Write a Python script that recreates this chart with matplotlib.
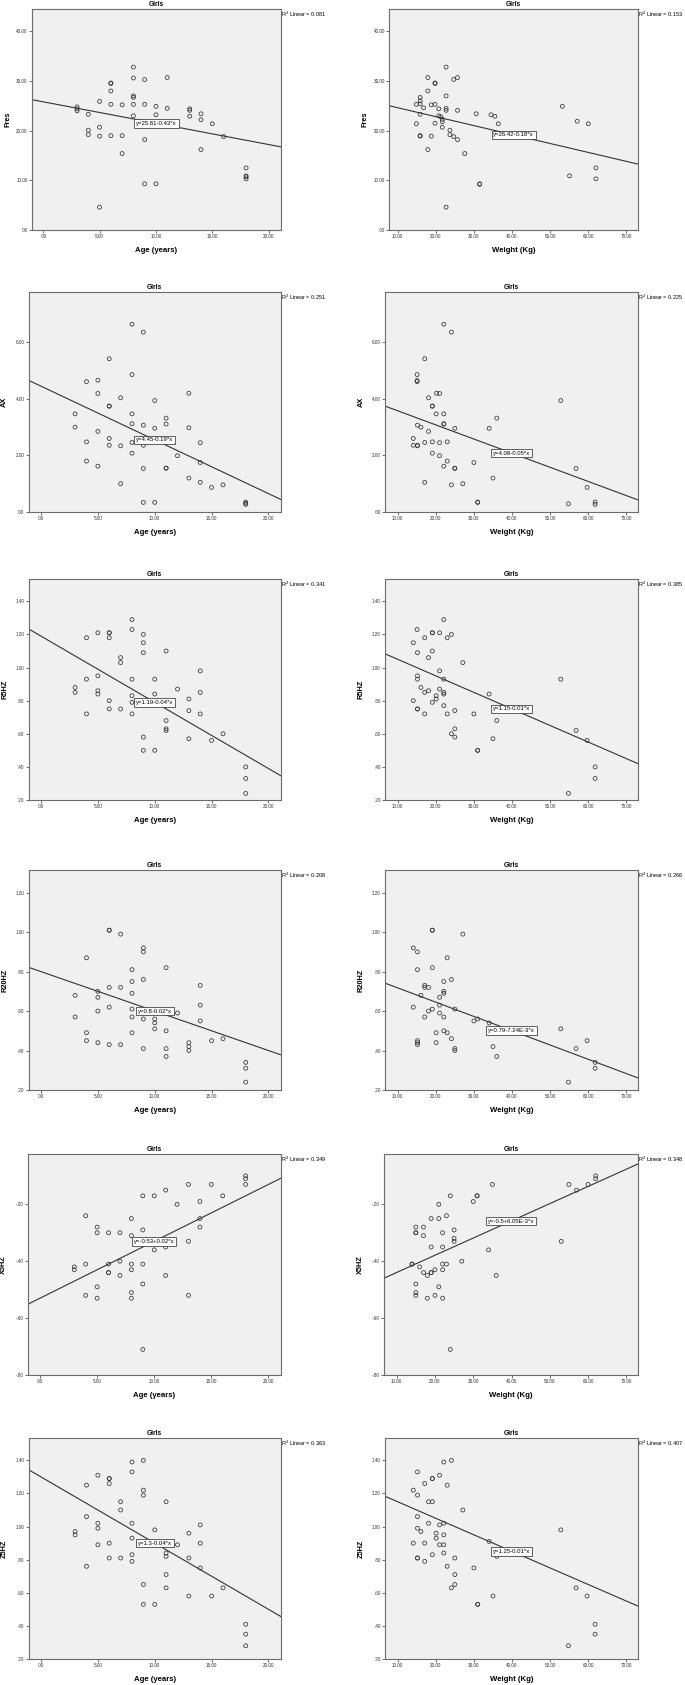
import matplotlib
matplotlib.use("Agg")
import matplotlib.pyplot as plt
from matplotlib.ticker import FuncFormatter

plt.rcParams['font.family'] = ['Liberation Sans', 'DejaVu Sans']

# ---- data (girls) ----
# Fres
fres_age_x = [3, 3, 3, 4, 4, 4, 5, 5, 5, 5, 6, 6, 6, 6, 6, 7, 7, 7, 8, 8, 8, 8, 8, 8, 9, 9, 9, 9,
              10, 10, 10, 11, 11, 13, 13, 13, 14, 14, 14, 15, 16, 18, 18, 18, 18]
fres_age_y = [24.8, 24.4, 24.0, 23.3, 20.1, 19.2, 25.9, 20.7, 18.9, 4.6, 29.6, 29.5, 28.0, 25.3, 19.0,
              25.2, 19.0, 15.4, 32.8, 30.6, 27.0, 26.7, 25.3, 23.0, 30.3, 25.3, 18.2, 9.3, 24.9, 23.2,
              9.3, 30.7, 24.5, 24.4, 24.1, 22.9, 23.4, 22.2, 16.2, 21.4, 18.8, 12.5, 10.9, 10.7, 10.3]
fres_wt_x = [14.9, 14.9, 15.9, 15.9, 15.9, 15.9, 15.9, 15.9, 16.8, 17.9, 17.9, 17.9, 18.8, 18.8,
             19.8, 19.8, 19.8, 19.8, 20.8, 20.8, 21.3, 21.7, 21.7, 21.7, 22.7, 22.7, 22.7, 22.7, 22.7,
             23.7, 23.7, 24.7, 24.7, 25.7, 25.7, 25.7, 27.6, 30.6, 31.5, 31.5, 34.5, 35.5, 36.4,
             53.2, 55.1, 57.1, 60.0, 62.0, 62.0]
fres_wt_y = [25.3, 21.4, 26.7, 26.0, 25.4, 23.3, 19.0, 18.9, 24.6, 30.7, 28.0, 16.2, 25.2, 18.9,
             29.6, 29.5, 25.3, 21.5, 24.4, 23.0, 22.8, 22.3, 21.8, 20.7, 32.8, 27.0, 24.5, 24.1, 4.6,
             20.1, 19.2, 30.3, 18.8, 30.7, 24.1, 18.2, 15.4, 23.4, 9.3, 9.2, 23.2, 22.9, 21.4,
             24.9, 10.9, 21.9, 21.4, 12.5, 10.3]

# AX
ax_age_x = [3, 3, 4, 4, 4, 5, 5, 5, 5, 6, 6, 6, 6, 6, 7, 7, 7, 8, 8, 8, 8, 8, 8, 9, 9, 9, 9, 9,
            10, 10, 10, 11, 11, 11, 11, 12, 13, 13, 13, 14, 14, 14, 15, 16, 18, 18, 18]
ax_age_y = [3.47, 3.00, 4.61, 2.48, 1.80, 4.66, 4.19, 2.85, 1.62, 5.42, 3.75, 3.74, 2.60, 2.36,
            4.04, 2.34, 1.00, 6.64, 4.86, 3.47, 3.12, 2.46, 2.08, 6.36, 3.07, 2.36, 1.54, 0.34,
            3.94, 2.96, 0.34, 3.32, 3.11, 1.55, 1.55, 1.99, 4.20, 2.98, 1.20, 2.45, 1.75, 1.05,
            0.87, 0.96, 0.35, 0.31, 0.27]
ax_wt_x = [22.1, 24.1, 17.1, 15.1, 15.1, 15.1, 20.2, 21.0, 18.1, 19.1, 19.1, 20.1, 22.1, 22.1, 22.1,
           15.2, 16.1, 25.0, 18.1, 14.1, 14.1, 15.2, 15.2, 17.1, 19.1, 21.0, 23.0, 34.0, 36.0, 52.8,
           19.1, 21.0, 23.0, 22.1, 30.0, 25.0, 25.0, 17.1, 24.1, 27.1, 35.0, 31.0, 31.0,
           56.8, 59.7, 54.8, 61.8, 61.8]
ax_wt_y = [6.64, 6.36, 5.42, 4.86, 4.65, 4.61, 4.20, 4.19, 4.04, 3.75, 3.74, 3.47, 3.47, 3.12, 3.11,
           3.07, 3.00, 2.96, 2.85, 2.60, 2.36, 2.36, 2.34, 2.46, 2.48, 2.45, 2.48, 2.96, 3.32, 3.94,
           2.08, 1.99, 1.80, 1.62, 1.75, 1.55, 1.54, 1.05, 0.96, 1.00, 1.20, 0.34, 0.35,
           1.54, 0.87, 0.29, 0.35, 0.27]

# R5HZ
r5_age_x = [3, 3, 4, 4, 4, 5, 5, 5, 5, 6, 6, 6, 6, 6, 7, 7, 7, 8, 8, 8, 8, 8, 8, 9, 9, 9, 9, 9,
            10, 10, 10, 11, 11, 11, 11, 12, 13, 13, 13, 14, 14, 14, 15, 16, 18, 18, 18]
r5_age_y = [0.88, 0.85, 1.18, 0.93, 0.72, 1.21, 0.95, 0.86, 0.84, 1.21, 1.21, 1.18, 0.80, 0.75,
            1.06, 1.03, 0.75, 1.29, 1.23, 0.93, 0.83, 0.79, 0.72, 1.20, 1.15, 1.09, 0.58, 0.50,
            0.93, 0.84, 0.50, 1.10, 0.68, 0.63, 0.62, 0.87, 0.81, 0.74, 0.57, 0.98, 0.85, 0.72,
            0.56, 0.60, 0.40, 0.33, 0.24]
r5_wt_x = [22.1, 15.1, 19.1, 19.1, 21.0, 24.1, 17.1, 23.0, 14.1, 15.2, 19.1, 18.1, 27.1, 21.0, 15.2,
           15.2, 22.1, 16.1, 21.0, 17.1, 18.1, 22.1, 22.1, 20.1, 20.1, 14.1, 19.1, 22.1, 15.2, 15.2,
           17.1, 23.0, 25.0, 30.0, 34.0, 36.0, 35.0, 24.1, 25.0, 25.0, 31.0, 31.0, 52.8, 56.8, 59.7,
           61.8, 61.8, 54.8]
r5_wt_y = [1.29, 1.23, 1.21, 1.21, 1.21, 1.20, 1.18, 1.18, 1.15, 1.09, 1.10, 1.06, 1.03, 0.98, 0.95,
           0.93, 0.93, 0.88, 0.87, 0.85, 0.86, 0.85, 0.84, 0.83, 0.81, 0.80, 0.79, 0.77, 0.75, 0.75,
           0.72, 0.72, 0.74, 0.72, 0.84, 0.68, 0.57, 0.60, 0.63, 0.58, 0.50, 0.50, 0.93, 0.62, 0.56,
           0.40, 0.33, 0.24]

# R20HZ
r20_age_x = [3, 3, 4, 4, 4, 5, 5, 5, 5, 6, 6, 6, 6, 6, 7, 7, 7, 8, 8, 8, 8, 8, 8, 9, 9, 9, 9, 9,
             10, 10, 10, 11, 11, 11, 11, 12, 13, 13, 13, 14, 14, 14, 15, 16, 18, 18, 18]
r20_age_y = [0.68, 0.57, 0.87, 0.49, 0.45, 0.70, 0.67, 0.60, 0.44, 1.01, 1.01, 0.72, 0.62, 0.43,
             0.99, 0.72, 0.43, 0.81, 0.75, 0.69, 0.61, 0.57, 0.49, 0.92, 0.90, 0.76, 0.56, 0.41,
             0.56, 0.54, 0.51, 0.82, 0.50, 0.41, 0.37, 0.59, 0.44, 0.42, 0.40, 0.73, 0.63, 0.55,
             0.45, 0.46, 0.34, 0.31, 0.24]
r20_wt_x = [19.1, 19.1, 27.1, 14.1, 15.2, 23.0, 15.2, 19.1, 24.1, 22.1, 17.1, 17.1, 18.1, 22.1, 22.1,
            21.0, 16.1, 14.1, 21.0, 19.1, 18.1, 25.0, 21.0, 17.1, 22.1, 30.0, 31.0, 34.0, 20.1, 22.1,
            23.0, 24.1, 20.1, 15.2, 15.2, 15.2, 25.0, 25.0, 35.0, 36.0, 52.8, 56.8, 59.7, 61.8, 61.8,
            54.8]
r20_wt_y = [1.01, 1.01, 0.99, 0.92, 0.90, 0.87, 0.81, 0.82, 0.76, 0.75, 0.73, 0.72, 0.72, 0.70, 0.69,
            0.67, 0.68, 0.62, 0.63, 0.61, 0.60, 0.61, 0.59, 0.57, 0.57, 0.55, 0.56, 0.54, 0.49, 0.50,
            0.49, 0.46, 0.44, 0.45, 0.44, 0.43, 0.41, 0.40, 0.42, 0.37, 0.51, 0.41, 0.45, 0.34, 0.31,
            0.24]

# X5HZ
x5_age_x = [3, 3, 4, 4, 4, 5, 5, 5, 5, 6, 6, 6, 6, 7, 7, 7, 8, 8, 8, 8, 8, 8, 9, 9, 9, 9, 9,
            10, 10, 11, 11, 11, 12, 13, 13, 13, 14, 14, 14, 15, 16, 18, 18, 18]
x5_age_y = [-0.42, -0.43, -0.24, -0.41, -0.52, -0.28, -0.30, -0.49, -0.53, -0.30, -0.41, -0.44, -0.44,
            -0.30, -0.40, -0.45, -0.25, -0.31, -0.41, -0.43, -0.51, -0.53, -0.17, -0.29, -0.41, -0.48,
            -0.71, -0.17, -0.36, -0.15, -0.35, -0.45, -0.20, -0.13, -0.33, -0.52, -0.19, -0.25, -0.28,
            -0.13, -0.17, -0.10, -0.11, -0.13]
x5_wt_x = [35, 24, 31, 31, 30, 21, 23, 19, 21, 15, 17, 15, 15, 17, 22, 25, 25, 25, 19, 22, 34, 27,
           14, 14, 22, 23, 16, 20, 22, 17, 19, 19, 18, 36, 15, 21, 15, 15, 20, 18, 22, 24,
           55, 57, 60, 62, 62, 53]
x5_wt_y = [-0.13, -0.17, -0.17, -0.17, -0.19, -0.20, -0.24, -0.25, -0.25, -0.28, -0.28, -0.30, -0.30,
           -0.31, -0.30, -0.29, -0.32, -0.33, -0.35, -0.35, -0.36, -0.40, -0.41, -0.41, -0.41, -0.41,
           -0.42, -0.43, -0.43, -0.44, -0.44, -0.44, -0.45, -0.45, -0.48, -0.49, -0.51, -0.52, -0.52,
           -0.53, -0.53, -0.71, -0.13, -0.15, -0.13, -0.10, -0.11, -0.33]

# Z5HZ
z5_age_x = [3, 3, 4, 4, 4, 5, 5, 5, 5, 6, 6, 6, 6, 6, 7, 7, 7, 8, 8, 8, 8, 8, 8, 9, 9, 9, 9, 9,
            10, 10, 11, 11, 11, 11, 11, 12, 13, 13, 13, 14, 14, 14, 15, 16, 18, 18, 18]
z5_age_y = [0.97, 0.95, 1.25, 1.06, 0.76, 1.31, 1.02, 0.99, 0.89, 1.29, 1.29, 1.26, 0.90, 0.81,
            1.15, 1.10, 0.81, 1.39, 1.33, 1.02, 0.93, 0.83, 0.79, 1.40, 1.22, 1.19, 0.65, 0.53,
            0.98, 0.53, 1.15, 0.84, 0.82, 0.71, 0.63, 0.89, 0.96, 0.81, 0.58, 1.01, 0.90, 0.75,
            0.58, 0.63, 0.41, 0.35, 0.28]
z5_wt_x = [24.1, 22.1, 15.2, 21.0, 19.1, 19.1, 17.1, 23.0, 14.1, 15.2, 18.1, 19.1, 27.1, 15.2, 18.1,
           22.1, 21.0, 15.2, 16.1, 20.1, 22.1, 20.1, 14.1, 17.1, 21.0, 22.1, 34.0, 22.1, 19.1, 15.2,
           15.2, 25.0, 36.0, 17.1, 23.0, 30.0, 25.0, 25.0, 24.1, 35.0, 31.0, 31.0, 52.8, 56.8, 59.7,
           61.8, 61.8, 54.8]
z5_wt_y = [1.40, 1.39, 1.33, 1.31, 1.29, 1.29, 1.26, 1.25, 1.22, 1.19, 1.15, 1.15, 1.10, 1.06, 1.02,
           1.02, 1.01, 0.99, 0.97, 0.96, 0.95, 0.93, 0.90, 0.90, 0.89, 0.89, 0.91, 0.84, 0.83, 0.81,
           0.81, 0.81, 0.82, 0.79, 0.76, 0.75, 0.71, 0.65, 0.63, 0.58, 0.53, 0.53, 0.98, 0.63, 0.58,
           0.41, 0.35, 0.28]

# variable names, fitted lines (intercept, slope), R squared and labels
variables = ['Fres', 'AX', 'R5HZ', 'R20HZ', 'X5HZ', 'Z5HZ']
age_intercepts = [25.81, 4.45, 1.19, 0.8, -0.53, 1.3]
age_slopes = [-0.43, -0.19, -0.04, -0.02, 0.02, -0.04]
age_r2 = [0.081, 0.251, 0.341, 0.208, 0.349, 0.363]
age_eqs = ['y=25.81-0.43*x', 'y=4.45-0.19*x', 'y=1.19-0.04*x',
           'y=0.8-0.02*x', 'y=-0.53+0.02*x', 'y=1.3-0.04*x']
wt_intercepts = [26.42, 4.08, 1.15, 0.79, -0.5, 1.25]
wt_slopes = [-0.18, -0.05, -0.01, -7.24e-3, 6.05e-3, -0.01]
wt_r2 = [0.153, 0.225, 0.385, 0.266, 0.348, 0.407]
wt_eqs = ['y=26.42-0.18*x', 'y=4.08-0.05*x', 'y=1.15-0.01*x',
          'y=0.79-7.24E-3*x', 'y=-0.5+6.05E-3*x', 'y=1.25-0.01*x']

age_points = [(fres_age_x, fres_age_y), (ax_age_x, ax_age_y), (r5_age_x, r5_age_y),
              (r20_age_x, r20_age_y), (x5_age_x, x5_age_y), (z5_age_x, z5_age_y)]
wt_points = [(fres_wt_x, fres_wt_y), (ax_wt_x, ax_wt_y), (r5_wt_x, r5_wt_y),
             (r20_wt_x, r20_wt_y), (x5_wt_x, x5_wt_y), (z5_wt_x, z5_wt_y)]

# ---- layout (pixels of the 685x1685 picture) ----
W, H = 685, 1685
row_top = [9, 292, 579, 870, 1154, 1438]
row_bottom = [230, 512, 800, 1090, 1375, 1659]
left_x0 = [32, 28.7, 28.7, 28.7, 27.7, 28.7]
right_x0 = [389.3, 385.3, 385.3, 385.3, 384.3, 385.3]
left_x1, right_x1 = 281, 638
ylims = [(0, 44.5), (0, 7.78), (0.2, 1.535), (0.2, 1.315), (-0.8, -0.023), (0.2, 1.535)]
yticks = [[0, 10, 20, 30, 40], [0, 2, 4, 6], [0.2, 0.4, 0.6, 0.8, 1.0, 1.2, 1.4],
          [0.2, 0.4, 0.6, 0.8, 1.0, 1.2], [-0.8, -0.6, -0.4, -0.2], [0.2, 0.4, 0.6, 0.8, 1.0, 1.2, 1.4]]
age_xlims = [(-1.0, 21.1)] + [(-1.08, 21.1)] * 5
wt_xlims = [(7.8, 73.05)] + [(6.76, 73.05)] * 5


def spss_fmt(v, pos):
    s = f"{v:.2f}"
    if abs(v) < 1:
        s = s.replace("0.", ".", 1)
    return s


def draw_panel(fig, x0, x1, top, bottom, pts, xlim, ylim, ytk, xtk, a, b, r2, eq, ylab, xlab):
    ax = fig.add_axes([x0 / W, 1 - bottom / H, (x1 - x0) / W, (bottom - top) / H])
    ax.set_facecolor('#f0f0f0')
    for sp in ax.spines.values():
        sp.set_color('#6b6b6b')
        sp.set_linewidth(0.8)
    ax.scatter(pts[0], pts[1], s=8, facecolors='none', edgecolors='#333333', linewidths=0.55, zorder=3)
    ax.plot(list(xlim), [a + b * xlim[0], a + b * xlim[1]], color='#333333', lw=0.8, zorder=2)
    ax.set_xlim(xlim)
    ax.set_ylim(ylim)
    ax.set_xticks(xtk)
    ax.set_yticks(ytk)
    ax.xaxis.set_major_formatter(FuncFormatter(spss_fmt))
    ax.yaxis.set_major_formatter(FuncFormatter(spss_fmt))
    ax.tick_params(labelsize=3.3, length=2, width=0.5, pad=1.2, colors='#333333')
    # equation label sits on the line at the middle of the x range
    xc = (xlim[0] + xlim[1]) / 2
    ax.text(xc, a + b * xc, eq, ha='center', va='center', fontsize=4.3, zorder=5,
            bbox=dict(boxstyle='square,pad=0.3', fc='white', ec='#222222', lw=0.5))
    xm = (x0 + x1) / 2
    fig.text(xm / W, 1 - (top - 4.7) / H, 'Girls', ha='center', va='center', fontsize=4.8, fontweight='bold')
    fig.text(x1 / W, 1 - (top + 5) / H, 'R$^2$ Linear = %.3f' % r2, ha='left', va='center', fontsize=4.0)
    fig.text(xm / W, 1 - (bottom + 20) / H, xlab, ha='center', va='center', fontsize=5.6, fontweight='bold')
    fig.text((x0 - 24) / W, 1 - (top + bottom) / 2 / H, ylab, ha='center', va='center',
             rotation=90, fontsize=5.3, fontweight='bold')
    return ax


fig = plt.figure(figsize=(W / 100, H / 100), dpi=100)
for i in range(6):
    draw_panel(fig, left_x0[i], left_x1, row_top[i], row_bottom[i], age_points[i], age_xlims[i],
               ylims[i], yticks[i], [0, 5, 10, 15, 20], age_intercepts[i], age_slopes[i], age_r2[i],
               age_eqs[i], variables[i], 'Age (years)')
    draw_panel(fig, right_x0[i], right_x1, row_top[i], row_bottom[i], wt_points[i], wt_xlims[i],
               ylims[i], yticks[i], [10, 20, 30, 40, 50, 60, 70], wt_intercepts[i], wt_slopes[i], wt_r2[i],
               wt_eqs[i], variables[i], 'Weight (Kg)')

fig.savefig('out.png', dpi=100)
